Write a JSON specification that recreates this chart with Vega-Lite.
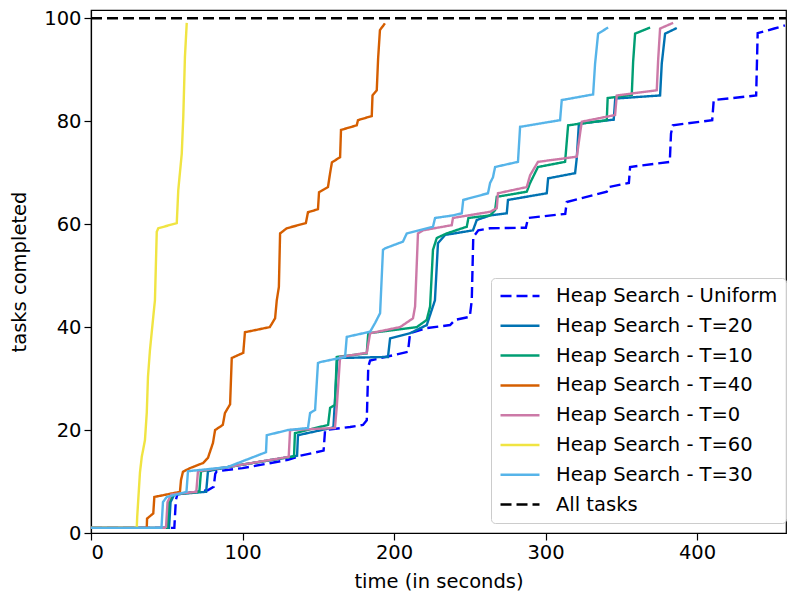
{
  "$schema": "https://vega.github.io/schema/vega-lite/v6.json",
  "width": 695,
  "height": 523,
  "autosize": "none",
  "padding": {"left": 91, "top": 10, "right": 1, "bottom": 64},
  "background": "white",
  "config": {
    "font": "DejaVu Sans",
    "view": {"stroke": "#000000", "strokeWidth": 1.2},
    "axis": {
      "grid": false,
      "domainColor": "#000000",
      "domainWidth": 1.2,
      "tickColor": "#000000",
      "tickWidth": 1.2,
      "tickSize": 7,
      "labelFont": "DejaVu Sans",
      "labelFontSize": 19.5,
      "labelColor": "#000000",
      "titleFont": "DejaVu Sans",
      "titleFontSize": 19.5,
      "titleFontWeight": "normal",
      "titleColor": "#000000"
    }
  },
  "data": {
    "values": [
      {"s":"Heap Search - Uniform","t":0,"y":1},{"s":"Heap Search - Uniform","t":55,"y":1},{"s":"Heap Search - Uniform","t":56,"y":6.4},{"s":"Heap Search - Uniform","t":57,"y":7.5},{"s":"Heap Search - Uniform","t":77,"y":8.3},{"s":"Heap Search - Uniform","t":81,"y":9},{"s":"Heap Search - Uniform","t":82,"y":11.5},{"s":"Heap Search - Uniform","t":83,"y":12},{"s":"Heap Search - Uniform","t":100,"y":12.6},{"s":"Heap Search - Uniform","t":130,"y":14.2},{"s":"Heap Search - Uniform","t":138,"y":15},{"s":"Heap Search - Uniform","t":153.5,"y":16},{"s":"Heap Search - Uniform","t":154.5,"y":20},{"s":"Heap Search - Uniform","t":171,"y":20.6},{"s":"Heap Search - Uniform","t":179.5,"y":21},{"s":"Heap Search - Uniform","t":182,"y":21.9},{"s":"Heap Search - Uniform","t":183,"y":32.3},{"s":"Heap Search - Uniform","t":184.2,"y":33.5},{"s":"Heap Search - Uniform","t":209.2,"y":35.2},{"s":"Heap Search - Uniform","t":210.6,"y":38.8},{"s":"Heap Search - Uniform","t":221.6,"y":39.8},{"s":"Heap Search - Uniform","t":237,"y":40.4},{"s":"Heap Search - Uniform","t":240.3,"y":41.4},{"s":"Heap Search - Uniform","t":250,"y":42},{"s":"Heap Search - Uniform","t":251.3,"y":45.2},{"s":"Heap Search - Uniform","t":252.3,"y":57.5},{"s":"Heap Search - Uniform","t":255.6,"y":58.8},{"s":"Heap Search - Uniform","t":263.4,"y":59.2},{"s":"Heap Search - Uniform","t":287,"y":59.3},{"s":"Heap Search - Uniform","t":288.5,"y":61.2},{"s":"Heap Search - Uniform","t":313,"y":62},{"s":"Heap Search - Uniform","t":314,"y":64.3},{"s":"Heap Search - Uniform","t":340.4,"y":66.3},{"s":"Heap Search - Uniform","t":341.5,"y":67.2},{"s":"Heap Search - Uniform","t":355,"y":68},{"s":"Heap Search - Uniform","t":355.8,"y":71.1},{"s":"Heap Search - Uniform","t":382,"y":72.1},{"s":"Heap Search - Uniform","t":382.8,"y":77.6},{"s":"Heap Search - Uniform","t":384,"y":79.2},{"s":"Heap Search - Uniform","t":410,"y":80.2},{"s":"Heap Search - Uniform","t":411,"y":84.1},{"s":"Heap Search - Uniform","t":439,"y":85},{"s":"Heap Search - Uniform","t":440,"y":97.1},{"s":"Heap Search - Uniform","t":451,"y":98},{"s":"Heap Search - Uniform","t":458,"y":98.6},

      {"s":"Heap Search - T=20","t":0,"y":1},{"s":"Heap Search - T=20","t":51.5,"y":1},{"s":"Heap Search - T=20","t":52.5,"y":6},{"s":"Heap Search - T=20","t":55,"y":7.5},{"s":"Heap Search - T=20","t":76,"y":8},{"s":"Heap Search - T=20","t":77.2,"y":12},{"s":"Heap Search - T=20","t":90,"y":12.8},{"s":"Heap Search - T=20","t":136,"y":15},{"s":"Heap Search - T=20","t":136.6,"y":19},{"s":"Heap Search - T=20","t":160,"y":20.5},{"s":"Heap Search - T=20","t":162.5,"y":33.5},{"s":"Heap Search - T=20","t":164,"y":34},{"s":"Heap Search - T=20","t":196,"y":34.2},{"s":"Heap Search - T=20","t":197.4,"y":37.8},{"s":"Heap Search - T=20","t":210.5,"y":38.8},{"s":"Heap Search - T=20","t":221.6,"y":40.4},{"s":"Heap Search - T=20","t":227,"y":45.2},{"s":"Heap Search - T=20","t":229,"y":56.3},{"s":"Heap Search - T=20","t":233.7,"y":57.9},{"s":"Heap Search - T=20","t":252.1,"y":58.8},{"s":"Heap Search - T=20","t":254.6,"y":60.8},{"s":"Heap Search - T=20","t":263.4,"y":61.7},{"s":"Heap Search - T=20","t":274.4,"y":62.1},{"s":"Heap Search - T=20","t":275.2,"y":64.7},{"s":"Heap Search - T=20","t":300.8,"y":66},{"s":"Heap Search - T=20","t":301.7,"y":68.9},{"s":"Heap Search - T=20","t":319.5,"y":69.9},{"s":"Heap Search - T=20","t":320.6,"y":72.8},{"s":"Heap Search - T=20","t":322,"y":79.5},{"s":"Heap Search - T=20","t":345,"y":80.3},{"s":"Heap Search - T=20","t":346,"y":84.4},{"s":"Heap Search - T=20","t":375.6,"y":85},{"s":"Heap Search - T=20","t":376.7,"y":91.2},{"s":"Heap Search - T=20","t":378.9,"y":97},{"s":"Heap Search - T=20","t":386.6,"y":98.1},

      {"s":"Heap Search - T=10","t":0,"y":1},{"s":"Heap Search - T=10","t":50.5,"y":1},{"s":"Heap Search - T=10","t":51.5,"y":6},{"s":"Heap Search - T=10","t":54,"y":7.5},{"s":"Heap Search - T=10","t":71.5,"y":8},{"s":"Heap Search - T=10","t":72.6,"y":12},{"s":"Heap Search - T=10","t":90,"y":12.8},{"s":"Heap Search - T=10","t":134,"y":14.9},{"s":"Heap Search - T=10","t":134.6,"y":19.4},{"s":"Heap Search - T=10","t":156.5,"y":21},{"s":"Heap Search - T=10","t":157.8,"y":24.3},{"s":"Heap Search - T=10","t":161,"y":24.9},{"s":"Heap Search - T=10","t":162.2,"y":34.2},{"s":"Heap Search - T=10","t":182,"y":34.9},{"s":"Heap Search - T=10","t":183,"y":38.8},{"s":"Heap Search - T=10","t":215,"y":40},{"s":"Heap Search - T=10","t":221.6,"y":41.4},{"s":"Heap Search - T=10","t":223.8,"y":44},{"s":"Heap Search - T=10","t":225.7,"y":55},{"s":"Heap Search - T=10","t":228.2,"y":57.3},{"s":"Heap Search - T=10","t":234.8,"y":58.2},{"s":"Heap Search - T=10","t":248,"y":59.5},{"s":"Heap Search - T=10","t":249.1,"y":61.2},{"s":"Heap Search - T=10","t":263.4,"y":61.7},{"s":"Heap Search - T=10","t":266.7,"y":62.7},{"s":"Heap Search - T=10","t":267.8,"y":65.3},{"s":"Heap Search - T=10","t":287.6,"y":66.3},{"s":"Heap Search - T=10","t":289.8,"y":68},{"s":"Heap Search - T=10","t":295,"y":71.1},{"s":"Heap Search - T=10","t":312.9,"y":72.1},{"s":"Heap Search - T=10","t":314.9,"y":79.2},{"s":"Heap Search - T=10","t":340.4,"y":80.2},{"s":"Heap Search - T=10","t":341,"y":84.5},{"s":"Heap Search - T=10","t":356.9,"y":85.1},{"s":"Heap Search - T=10","t":357.8,"y":91.5},{"s":"Heap Search - T=10","t":359.1,"y":97},{"s":"Heap Search - T=10","t":369,"y":98.2},

      {"s":"Heap Search - T=40","t":0,"y":1},{"s":"Heap Search - T=40","t":36.8,"y":1},{"s":"Heap Search - T=40","t":37,"y":2.8},{"s":"Heap Search - T=40","t":41.1,"y":3.8},{"s":"Heap Search - T=40","t":41.8,"y":7},{"s":"Heap Search - T=40","t":58.7,"y":8},{"s":"Heap Search - T=40","t":59.4,"y":10.3},{"s":"Heap Search - T=40","t":60.7,"y":11.9},{"s":"Heap Search - T=40","t":65.3,"y":12.6},{"s":"Heap Search - T=40","t":74,"y":13.6},{"s":"Heap Search - T=40","t":77.2,"y":14.6},{"s":"Heap Search - T=40","t":80.5,"y":17.5},{"s":"Heap Search - T=40","t":81.9,"y":20},{"s":"Heap Search - T=40","t":87,"y":21},{"s":"Heap Search - T=40","t":88.4,"y":23.3},{"s":"Heap Search - T=40","t":91.8,"y":25},{"s":"Heap Search - T=40","t":92.9,"y":34},{"s":"Heap Search - T=40","t":100.5,"y":35},{"s":"Heap Search - T=40","t":101.6,"y":39},{"s":"Heap Search - T=40","t":118,"y":40},{"s":"Heap Search - T=40","t":121.5,"y":41.7},{"s":"Heap Search - T=40","t":122.6,"y":45.2},{"s":"Heap Search - T=40","t":124,"y":47.8},{"s":"Heap Search - T=40","t":124.8,"y":58.2},{"s":"Heap Search - T=40","t":129.2,"y":59.2},{"s":"Heap Search - T=40","t":141.8,"y":60.2},{"s":"Heap Search - T=40","t":143.2,"y":62.3},{"s":"Heap Search - T=40","t":149.8,"y":62.9},{"s":"Heap Search - T=40","t":150.5,"y":66.2},{"s":"Heap Search - T=40","t":156.4,"y":67.2},{"s":"Heap Search - T=40","t":157.8,"y":69.9},{"s":"Heap Search - T=40","t":159,"y":72},{"s":"Heap Search - T=40","t":164.4,"y":73},{"s":"Heap Search - T=40","t":165,"y":78.3},{"s":"Heap Search - T=40","t":175.4,"y":79.2},{"s":"Heap Search - T=40","t":176.2,"y":80.2},{"s":"Heap Search - T=40","t":185.3,"y":81},{"s":"Heap Search - T=40","t":185.8,"y":85},{"s":"Heap Search - T=40","t":188.6,"y":86},{"s":"Heap Search - T=40","t":189.5,"y":92.2},{"s":"Heap Search - T=40","t":190.7,"y":97.7},{"s":"Heap Search - T=40","t":194,"y":99},

      {"s":"Heap Search - T=0","t":0,"y":1},{"s":"Heap Search - T=0","t":49.5,"y":1},{"s":"Heap Search - T=0","t":50.5,"y":6},{"s":"Heap Search - T=0","t":53,"y":7.5},{"s":"Heap Search - T=0","t":69.5,"y":8},{"s":"Heap Search - T=0","t":70.6,"y":12},{"s":"Heap Search - T=0","t":90,"y":12.8},{"s":"Heap Search - T=0","t":130.5,"y":14.8},{"s":"Heap Search - T=0","t":131.4,"y":20},{"s":"Heap Search - T=0","t":161,"y":20.4},{"s":"Heap Search - T=0","t":162.2,"y":24.5},{"s":"Heap Search - T=0","t":164.4,"y":34.2},{"s":"Heap Search - T=0","t":182,"y":35},{"s":"Heap Search - T=0","t":184.2,"y":38.8},{"s":"Heap Search - T=0","t":204,"y":40},{"s":"Heap Search - T=0","t":212.5,"y":41.7},{"s":"Heap Search - T=0","t":213.9,"y":44},{"s":"Heap Search - T=0","t":215.8,"y":58.2},{"s":"Heap Search - T=0","t":219.1,"y":58.8},{"s":"Heap Search - T=0","t":238.1,"y":59.8},{"s":"Heap Search - T=0","t":238.9,"y":61.2},{"s":"Heap Search - T=0","t":263.4,"y":62.4},{"s":"Heap Search - T=0","t":267.8,"y":63.1},{"s":"Heap Search - T=0","t":268.6,"y":66},{"s":"Heap Search - T=0","t":287.6,"y":67.2},{"s":"Heap Search - T=0","t":289.8,"y":69.5},{"s":"Heap Search - T=0","t":295,"y":72.1},{"s":"Heap Search - T=0","t":320.6,"y":73.1},{"s":"Heap Search - T=0","t":323.9,"y":79.9},{"s":"Heap Search - T=0","t":345.9,"y":81.2},{"s":"Heap Search - T=0","t":347,"y":85},{"s":"Heap Search - T=0","t":373.4,"y":86},{"s":"Heap Search - T=0","t":374.3,"y":91.8},{"s":"Heap Search - T=0","t":375.6,"y":98},{"s":"Heap Search - T=0","t":384.2,"y":99.1},

      {"s":"Heap Search - T=60","t":0,"y":1},{"s":"Heap Search - T=60","t":30.2,"y":1},{"s":"Heap Search - T=60","t":30.5,"y":3.2},{"s":"Heap Search - T=60","t":32.3,"y":11.7},{"s":"Heap Search - T=60","t":33.5,"y":14.8},{"s":"Heap Search - T=60","t":35.6,"y":18},{"s":"Heap Search - T=60","t":36.8,"y":23.3},{"s":"Heap Search - T=60","t":37.6,"y":30.3},{"s":"Heap Search - T=60","t":38.9,"y":35.5},{"s":"Heap Search - T=60","t":41.1,"y":42},{"s":"Heap Search - T=60","t":42.2,"y":45.2},{"s":"Heap Search - T=60","t":43.4,"y":58.5},{"s":"Heap Search - T=60","t":44.4,"y":59.2},{"s":"Heap Search - T=60","t":56.6,"y":60.2},{"s":"Heap Search - T=60","t":57.6,"y":66.6},{"s":"Heap Search - T=60","t":59.9,"y":73.7},{"s":"Heap Search - T=60","t":60.9,"y":80.8},{"s":"Heap Search - T=60","t":62,"y":92.5},{"s":"Heap Search - T=60","t":63.2,"y":99.1},

      {"s":"Heap Search - T=30","t":0,"y":1},{"s":"Heap Search - T=30","t":46.5,"y":1},{"s":"Heap Search - T=30","t":47.5,"y":6},{"s":"Heap Search - T=30","t":50,"y":7},{"s":"Heap Search - T=30","t":63,"y":8},{"s":"Heap Search - T=30","t":64,"y":12},{"s":"Heap Search - T=30","t":90,"y":12.8},{"s":"Heap Search - T=30","t":115.5,"y":15.7},{"s":"Heap Search - T=30","t":116,"y":19},{"s":"Heap Search - T=30","t":130,"y":20},{"s":"Heap Search - T=30","t":143.2,"y":20.4},{"s":"Heap Search - T=30","t":144.6,"y":23.3},{"s":"Heap Search - T=30","t":147.9,"y":23.9},{"s":"Heap Search - T=30","t":149.8,"y":33},{"s":"Heap Search - T=30","t":151.2,"y":33.2},{"s":"Heap Search - T=30","t":167.7,"y":34.2},{"s":"Heap Search - T=30","t":168.8,"y":38.1},{"s":"Heap Search - T=30","t":184.2,"y":39.1},{"s":"Heap Search - T=30","t":187.5,"y":40.8},{"s":"Heap Search - T=30","t":190.8,"y":42.7},{"s":"Heap Search - T=30","t":192.7,"y":55},{"s":"Heap Search - T=30","t":194.1,"y":55.3},{"s":"Heap Search - T=30","t":205.9,"y":56.6},{"s":"Heap Search - T=30","t":208.4,"y":58.2},{"s":"Heap Search - T=30","t":225.7,"y":59.5},{"s":"Heap Search - T=30","t":227.1,"y":61.2},{"s":"Heap Search - T=30","t":239,"y":61.7},{"s":"Heap Search - T=30","t":244.7,"y":62.1},{"s":"Heap Search - T=30","t":245.7,"y":64.7},{"s":"Heap Search - T=30","t":262,"y":66},{"s":"Heap Search - T=30","t":263.4,"y":68},{"s":"Heap Search - T=30","t":265.3,"y":69.1},{"s":"Heap Search - T=30","t":266.7,"y":71.1},{"s":"Heap Search - T=30","t":281.8,"y":72.1},{"s":"Heap Search - T=30","t":283.2,"y":78.9},{"s":"Heap Search - T=30","t":309.6,"y":80.2},{"s":"Heap Search - T=30","t":310.7,"y":84.1},{"s":"Heap Search - T=30","t":331.4,"y":85.2},{"s":"Heap Search - T=30","t":332.7,"y":91.2},{"s":"Heap Search - T=30","t":334.7,"y":97},{"s":"Heap Search - T=30","t":341.3,"y":98.2},

      {"s":"All tasks","t":0,"y":100},{"s":"All tasks","t":458.7,"y":100}
    ]
  },
  "mark": {"type": "line", "strokeWidth": 2.4, "clip": true},
  "encoding": {
    "x": {
      "field": "t",
      "type": "quantitative",
      "title": "time (in seconds)",
      "scale": {"domain": [0, 458.7], "nice": false, "zero": false},
      "axis": {"values": [0, 100, 200, 300, 400], "labelPadding": 3, "titlePadding": 11}
    },
    "y": {
      "field": "y",
      "type": "quantitative",
      "title": "tasks completed",
      "scale": {"domain": [0, 101.6], "nice": false, "zero": false},
      "axis": {"values": [0, 20, 40, 60, 80, 100], "labelPadding": 3, "titlePadding": 14}
    },
    "color": {
      "field": "s",
      "type": "nominal",
      "title": null,
      "scale": {
        "domain": ["Heap Search - Uniform","Heap Search - T=20","Heap Search - T=10","Heap Search - T=40","Heap Search - T=0","Heap Search - T=60","Heap Search - T=30","All tasks"],
        "range": ["#0000ff","#0072B2","#009E73","#D55E00","#CC79A7","#F0E442","#56B4E9","#000000"]
      },
      "legend": {
        "orient": "none",
        "legendX": 400,
        "legendY": 268,
        "title": null,
        "labelFont": "DejaVu Sans",
        "labelFontSize": 19.5,
        "labelColor": "#000000",
        "labelLimit": 400,
        "symbolType": "stroke",
        "symbolSize": 1520,
        "symbolStrokeWidth": 2.5,
        "labelOffset": 15,
        "rowPadding": 9.8,
        "clipHeight": 20,
        "padding": 8,
        "strokeColor": "#cccccc",
        "fillColor": "rgba(255,255,255,0.8)",
        "cornerRadius": 4
      }
    },
    "strokeDash": {
      "field": "s",
      "type": "nominal",
      "title": null,
      "scale": {
        "domain": ["Heap Search - Uniform","Heap Search - T=20","Heap Search - T=10","Heap Search - T=40","Heap Search - T=0","Heap Search - T=60","Heap Search - T=30","All tasks"],
        "range": [[11,5],[1,0],[1,0],[1,0],[1,0],[1,0],[1,0],[11,5]]
      }
    }
  }
}
